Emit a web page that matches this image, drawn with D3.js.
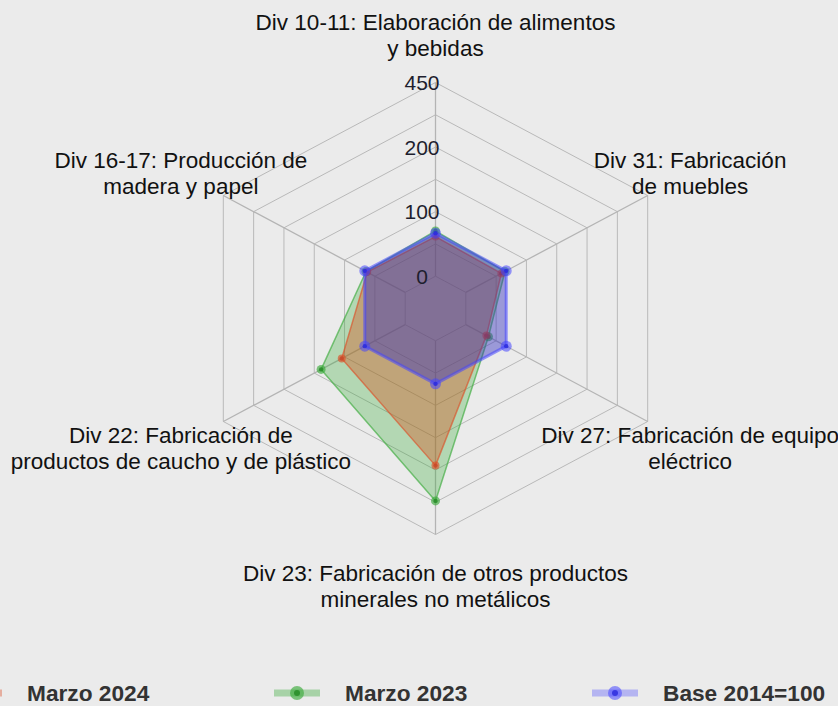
<!DOCTYPE html>
<html>
<head>
<meta charset="utf-8">
<script src="https://cdn.jsdelivr.net/npm/d3@7"></script>
<style>
  html, body { margin: 0; padding: 0; background: #ebebeb; overflow: hidden; }
  svg { display: block; font-family: "Liberation Sans", Arial, sans-serif; }
</style>
</head>
<body>
<script>
'use strict';

// axis labels, counter-clockwise from the top ("|" = line break)
const categories = [
  "Div 10-11: Elaboración de alimentos|y bebidas",
  "Div 16-17: Producción de|madera y papel",
  "Div 22: Fabricación de|productos de caucho y de plástico",
  "Div 23: Fabricación de otros productos|minerales no metálicos",
  "Div 27: Fabricación de equipo|eléctrico",
  "Div 31: Fabricación|de muebles"
];

const marzo2024 = [92, 94, 157, 290, 51, 88];
const marzo2023 = [105, 97, 208, 372, 56, 97];
const base2014 = [100, 100, 100, 100, 100, 100];

const seriesNames = ["Marzo 2024", "Marzo 2023", "Base 2014=100"];

// labels printed on the 7 grid rings (as in the original)
const ringLabels = ["0", "", "100", "", "200", "", "450"];

(function() {

  let svg = "";
  const width = 838, height = 706;
  const cx = 435.5, cy = 308.5;
  const rx = 245, ry = 226; // plot is stretched horizontally

  window.onload = function() {
    svg = d3.select('body')
      .append('svg')
      .attr('width', width)
      .attr('height', height);

    svg.append('rect')
      .attr('width', width)
      .attr('height', height)
      .attr('fill', '#ebebeb');

    makeRadar();
  }

  function makeRadar() {
    // plot-unit scales like a base R plot
    let xScale = d3.scaleLinear().domain([-1, 1]).range([cx - rx, cx + rx]);
    let yScale = d3.scaleLinear().domain([-1, 1]).range([cy + ry, cy - ry]);

    // value -> normalised radius, ring 1 is the minimum
    let nSeg = ringLabels.length;
    let rScale = d3.scaleLinear().domain([0, 450]).range([1 / nSeg, 1]);

    let angle = (i) => Math.PI / 2 + i * 2 * Math.PI / categories.length;
    let pt = (r, i) => [xScale(r * Math.cos(angle(i))), yScale(r * Math.sin(angle(i)))];

    // grid rings
    let ringR = d3.range(1, nSeg + 1).map((k) => k / nSeg);
    svg.append('g').selectAll('polygon')
      .data(ringR)
      .enter()
      .append('polygon')
      .attr('points', (r) => categories.map((c, i) => pt(r, i).join(',')).join(' '))
      .attr('fill', 'none')
      .attr('stroke', '#b9b9b9')
      .attr('stroke-width', 1);

    // spokes
    svg.append('g').selectAll('line')
      .data(categories)
      .enter()
      .append('line')
      .attr('x1', (d, i) => pt(1 / nSeg, i)[0])
      .attr('y1', (d, i) => pt(1 / nSeg, i)[1])
      .attr('x2', (d, i) => pt(1, i)[0])
      .attr('y2', (d, i) => pt(1, i)[1])
      .attr('stroke', '#b4b4b4')
      .attr('stroke-width', 1.3);

    let series = [
      {name: seriesNames[0], values: marzo2024, fill: 'rgba(215,75,20,0.36)', stroke: 'rgba(220,80,40,0.65)', sw: 1.5, r: 4, dot: 'rgba(200,70,40,0.8)'},
      {name: seriesNames[1], values: marzo2023, fill: 'rgba(50,170,50,0.3)', stroke: 'rgba(60,170,60,0.65)', sw: 1.5, r: 4.5, dot: 'rgba(40,140,40,0.85)'},
      {name: seriesNames[2], values: base2014, fill: 'rgba(45,40,190,0.42)', stroke: 'rgba(70,70,255,0.55)', sw: 3, r: 5.5, dot: 'rgba(40,40,220,0.8)'}
    ];

    // green underneath, then red, then blue on top
    [series[1], series[0], series[2]].forEach((s) => {
      let g = svg.append('g');
      g.append('polygon')
        .attr('points', s.values.map((v, i) => pt(rScale(v), i).join(',')).join(' '))
        .attr('fill', s.fill)
        .attr('stroke', s.stroke)
        .attr('stroke-width', s.sw)
        .attr('stroke-linejoin', 'round');
      g.selectAll('.halo')
        .data(s.values)
        .enter()
        .append('circle')
        .attr('cx', (v, i) => pt(rScale(v), i)[0])
        .attr('cy', (v, i) => pt(rScale(v), i)[1])
        .attr('r', s.r)
        .attr('fill', s.stroke);
      g.selectAll('.dot')
        .data(s.values)
        .enter()
        .append('circle')
        .attr('cx', (v, i) => pt(rScale(v), i)[0])
        .attr('cy', (v, i) => pt(rScale(v), i)[1])
        .attr('r', 2.2)
        .attr('fill', s.dot);
    });

    // ring labels along the top spoke
    svg.append('g').selectAll('text')
      .data(ringLabels)
      .enter()
      .append('text')
      .attr('x', xScale(-0.055))
      .attr('y', (d, k) => yScale(ringR[k]))
      .attr('text-anchor', 'middle')
      .attr('dominant-baseline', 'central')
      .style('font-size', '21px')
      .attr('fill', '#1e1e2e')
      .text((d) => d);

    // category labels outside the outer ring
    let lineH = 26;
    categories.forEach((c, i) => {
      let p = [xScale(1.2 * Math.cos(angle(i))), yScale(1.22 * Math.sin(angle(i)))];
      let lines = c.split('|');
      let t = svg.append('text')
        .attr('text-anchor', 'middle')
        .attr('dominant-baseline', 'central')
        .style('font-size', '22.5px')
        .attr('fill', '#111');
      lines.forEach((l, j) => {
        t.append('tspan')
          .attr('x', p[0])
          .attr('y', p[1] + 2 + (j - (lines.length - 1) / 2) * lineH)
          .text(l);
      });
    });

    drawLegend(series);
  }

  function drawLegend(series) {
    let legendX = d3.scaleLinear().domain([0, 1]).range([-21, 297]);
    let ly = 693;
    series.forEach((s, i) => {
      let x = legendX(i);
      let g = svg.append('g');
      g.append('line')
        .attr('x1', x - 23).attr('x2', x + 23)
        .attr('y1', ly).attr('y2', ly)
        .attr('stroke', s.stroke)
        .attr('stroke-opacity', 0.6)
        .attr('stroke-width', 7);
      g.append('circle')
        .attr('cx', x).attr('cy', ly)
        .attr('r', 7)
        .attr('fill', s.stroke);
      g.append('circle')
        .attr('cx', x).attr('cy', ly)
        .attr('r', 3)
        .attr('fill', s.dot);
      g.append('text')
        .attr('x', x + 48)
        .attr('y', ly)
        .attr('dominant-baseline', 'central')
        .style('font-size', '22.7px')
        .style('font-weight', 'bold')
        .attr('fill', '#333')
        .text(s.name);
    });
  }

})();
</script>
</body>
</html>
